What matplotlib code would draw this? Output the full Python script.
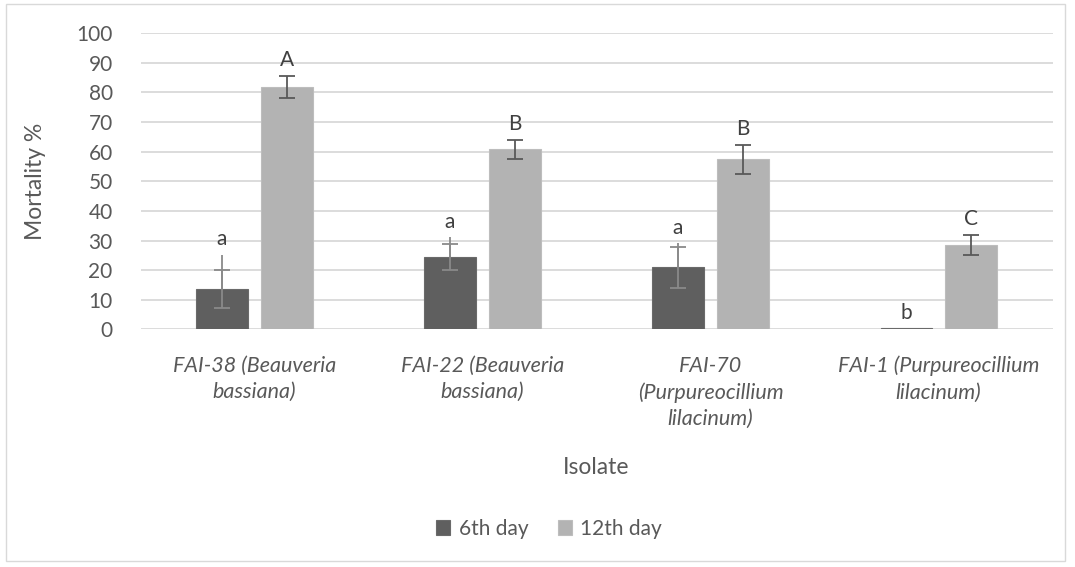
import matplotlib
matplotlib.use("Agg")
import matplotlib.pyplot as plt
import numpy as np
from matplotlib.patches import Rectangle

# --- Data ---
isolates = [
    "FAI-38 (Beauveria\nbassiana)",
    "FAI-22 (Beauveria\nbassiana)",
    "FAI-70\n(Purpureocillium\nlilacinum)",
    "FAI-1 (Purpureocillium\nlilacinum)",
]
series_names = ["6th day", "12th day"]
day6 = [13.6, 24.3, 20.9, 0.3]
day6_err = [6.5, 4.4, 7.0, 0.0]
day6_line_top = [25.1, 31.1, 29.0, 0.3]  # stray upper whisker lines in the original
day12 = [82.0, 60.8, 57.4, 28.5]
day12_err = [3.7, 3.3, 4.9, 3.3]
day6_letters = ["a", "a", "a", "b"]
day12_letters = ["A", "B", "B", "C"]

# --- Style ---
TEXT = "#595959"
GRID = "#d9d9d9"
DARK = "#5f5f5f"
LIGHT = "#b3b3b3"
plt.rcParams["font.family"] = ["Lato", "DejaVu Sans"]

fig = plt.figure(figsize=(10.75, 5.67), dpi=100)
ax = fig.add_axes([0.1307, 0.4192, 0.8484, 0.5221])

x = np.arange(len(isolates))
w = 0.224
off = 0.1425

ax.bar(x - off, day6, w, color=DARK, edgecolor="#6a6a6a", linewidth=0.8,
       label=series_names[0], zorder=3)
ax.bar(x + off, day12, w, color=LIGHT, edgecolor="#bdbdbd", linewidth=0.8,
       label=series_names[1], zorder=3)

# error bars
has_err = np.array(day6_err) > 0
ax.errorbar((x - off)[has_err], np.array(day6)[has_err], yerr=np.array(day6_err)[has_err],
            fmt="none", ecolor="#8a8a8a", elinewidth=1.3, capsize=5.5, capthick=1.3, zorder=4)
ext = np.array(day6_line_top) - np.array(day6)
ax.errorbar(x - off, day6, yerr=[np.zeros_like(ext), ext], fmt="none",
            ecolor="#8a8a8a", elinewidth=1.3, capsize=0, zorder=4)
ax.errorbar(x + off, day12, yerr=day12_err, fmt="none", ecolor="#595959",
            elinewidth=1.3, capsize=5.5, capthick=1.3, zorder=4)

# significance letters
for i in range(len(isolates)):
    top6 = max(day6[i] + day6_err[i], day6_line_top[i])
    ax.annotate(day6_letters[i], (x[i] - off, top6), xytext=(0, 7), textcoords="offset points",
                ha="center", va="baseline", fontsize=15, color="#404040")
    ax.annotate(day12_letters[i], (x[i] + off, day12[i] + day12_err[i]), xytext=(0, 7),
                textcoords="offset points", ha="center", va="baseline", fontsize=15,
                color="#404040")

ax.set_xlim(-0.5, len(isolates) - 0.5)
ax.set_ylim(0, 100)
ax.set_yticks(np.arange(0, 101, 10))
ax.yaxis.grid(True, color=GRID, linewidth=1.3, zorder=0)
ax.set_axisbelow(True)
for s in ax.spines.values():
    s.set_visible(False)
ax.tick_params(axis="y", length=0, pad=20, labelsize=15, labelcolor=TEXT)
ax.tick_params(axis="x", length=0, pad=19, labelsize=15.5, labelcolor=TEXT)
ax.set_xticks(x)
ax.set_xticklabels(isolates, fontstyle="italic", linespacing=1.4)

ax.set_xlabel("Isolate", fontsize=16.5, color=TEXT, labelpad=20)
ax.set_ylabel("Mortality %", fontsize=16.5, color=TEXT, labelpad=22)

fig.legend(loc="center", bbox_to_anchor=(549 / 1075, 1 - 529 / 567), ncol=2, frameon=False,
           fontsize=15, labelcolor=TEXT, handlelength=0.7, handleheight=0.7,
           handletextpad=0.4, columnspacing=1.4)

# chart border
fig.patches.append(Rectangle((6 / 1075, 1 - 561 / 567), 1059 / 1075, 557 / 567,
                             transform=fig.transFigure, fill=False, edgecolor=GRID,
                             linewidth=1.0))

fig.savefig("out.png", dpi=100, facecolor="white")
